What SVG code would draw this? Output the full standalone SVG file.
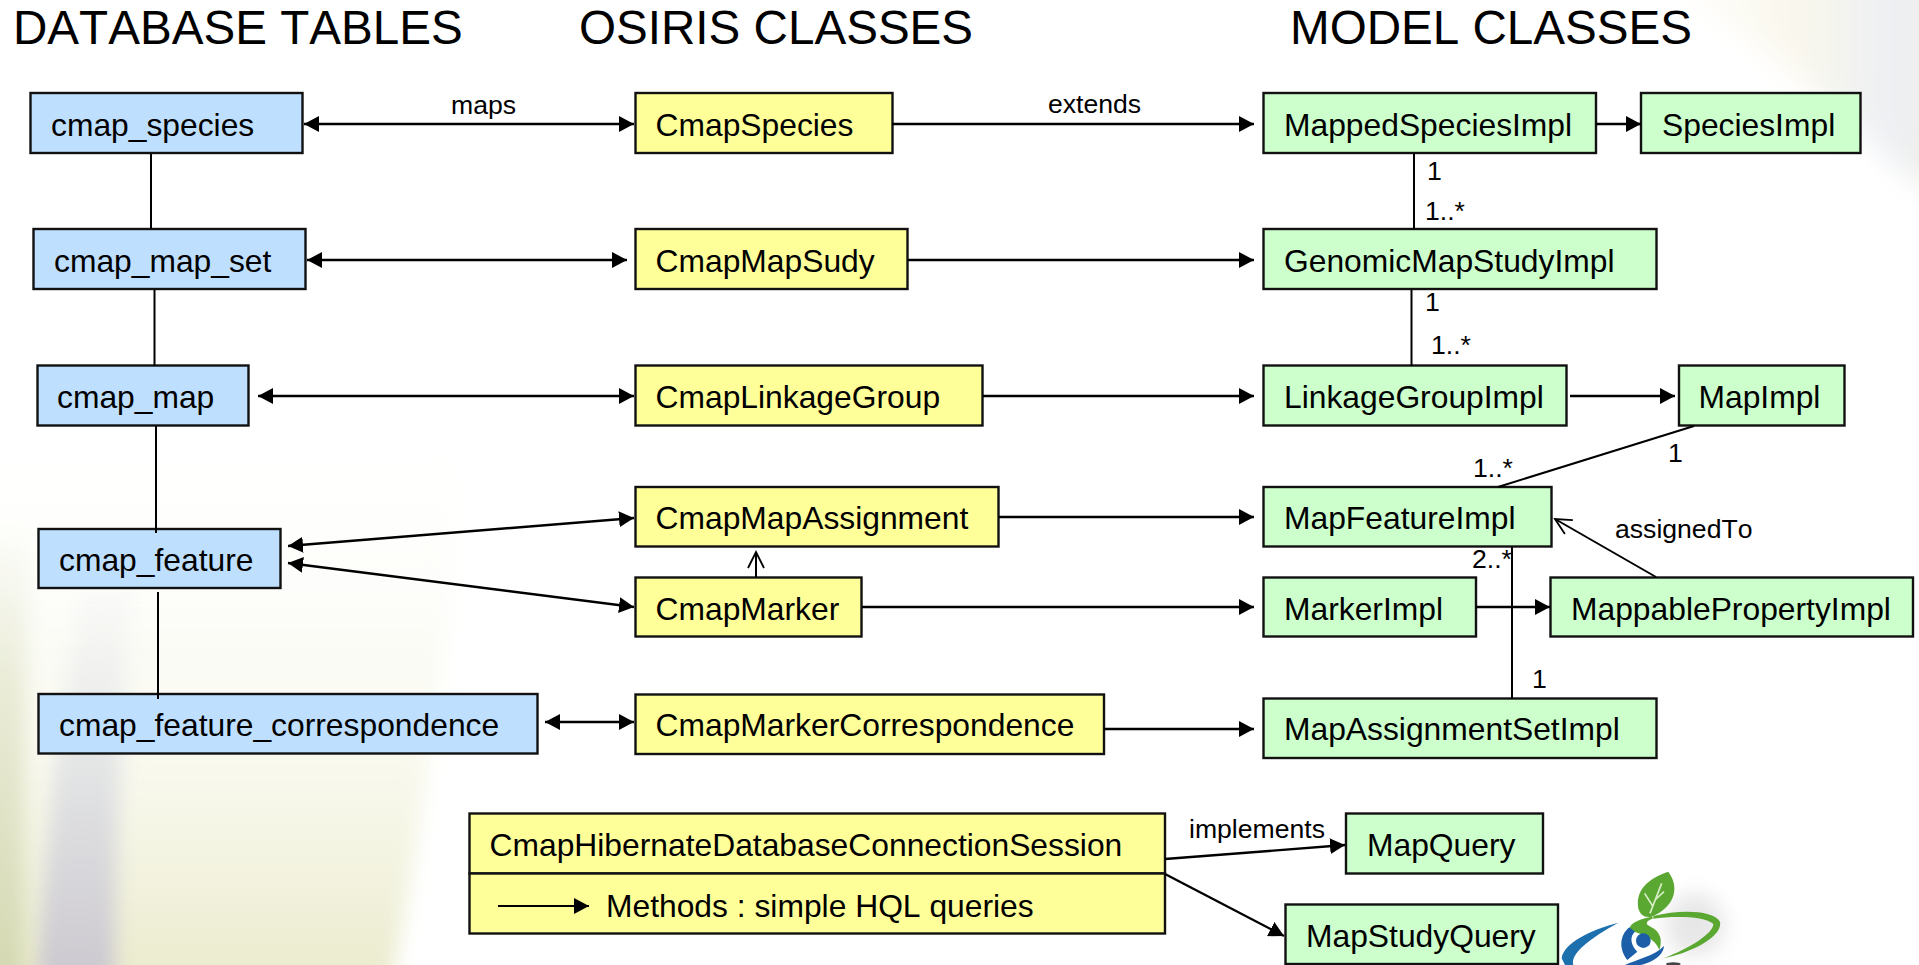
<svg xmlns="http://www.w3.org/2000/svg" width="1919" height="965" viewBox="0 0 1919 965">
<style>
text{font-family:"Liberation Sans",Arial,Helvetica,sans-serif;fill:#000;font-kerning:none}
.n{font-size:31.8px}
.t{font-size:47.6px}
.s{font-size:26.6px}
.b{stroke:#111;stroke-width:2.4}
.db{fill:#bfdfff}.os{fill:#ffff99}.mo{fill:#ccffcc}
.c line,.c path{fill:none;stroke:#000}
.a{stroke-width:2.4}.l{stroke-width:2}
</style>
<defs>
<marker id="f" markerUnits="userSpaceOnUse" markerWidth="17" markerHeight="16" refX="15" refY="8" orient="auto-start-reverse"><path d="M0 0L15 8L0 16Z" fill="#000"/></marker>
<marker id="o" markerUnits="userSpaceOnUse" markerWidth="20" markerHeight="20" refX="17" refY="10" orient="auto"><path d="M1 2L17 10L1 18" fill="none" stroke="#000" stroke-width="1.8"/></marker>
<linearGradient id="lg" x1="0" y1="0" x2="0" y2="1"><stop offset="0" stop-color="#fefefc" stop-opacity="0"/><stop offset=".3" stop-color="#fdfdfa"/><stop offset=".58" stop-color="#f9f9ef"/><stop offset=".8" stop-color="#f2f2de"/><stop offset="1" stop-color="#e9e9c8"/></linearGradient>
<linearGradient id="gy" x1="0" y1="0" x2="0" y2="1"><stop offset="0" stop-color="#eeeef0" stop-opacity="0"/><stop offset=".45" stop-color="#e4e6e6"/><stop offset="1" stop-color="#c9c5cd"/></linearGradient>
<linearGradient id="ed" x1="0" y1="0" x2="0" y2="1"><stop offset="0" stop-color="#eceedb" stop-opacity="0"/><stop offset=".35" stop-color="#e9ebd6"/><stop offset="1" stop-color="#d2d7ae"/></linearGradient>
<linearGradient id="tr" x1="0" y1="0" x2="1" y2="0"><stop offset="0" stop-color="#fbf8ec" stop-opacity="0"/><stop offset=".5" stop-color="#f9f7ec"/><stop offset=".8" stop-color="#eceff4"/><stop offset="1" stop-color="#f4f0e0"/></linearGradient>
<filter id="bl" x="-30%" y="-30%" width="160%" height="160%"><feGaussianBlur stdDeviation="10"/></filter>
<filter id="bx" x="-50%" y="-50%" width="200%" height="200%"><feGaussianBlur stdDeviation="14"/></filter>
<filter id="bs" x="-20%" y="-20%" width="140%" height="140%"><feGaussianBlur stdDeviation=".5"/></filter>
</defs>
<rect width="1919" height="965" fill="#fff"/>
<g id="background">
<path d="M-40 420L465 420Q455 650 388 1000L-40 1000Z" fill="url(#lg)" filter="url(#bl)"/>
<path d="M85 560L135 560Q115 760 115 1000L35 1000Q50 760 85 560Z" fill="url(#gy)" filter="url(#bl)"/>
<path d="M-30 520H30Q22 760 25 1000H-30Z" fill="url(#ed)" filter="url(#bl)"/>
<path d="M1640 -40H1960V210L1900 170Q1780 50 1640 -40Z" fill="url(#tr)" filter="url(#bx)"/>
</g>
<g id="logo">
<ellipse cx="1695" cy="925" rx="30" ry="32" fill="#d8d8d8" opacity=".6" filter="url(#bl)"/>
<g transform="translate(1540 850) scale(.3333)" filter="url(#bs)">
<path d="M385 65C325 85 285 120 295 175C300 195 315 205 335 200C395 175 425 120 385 65Z" fill="#5aa832"/>
<path d="M330 190L365 100M345 150L372 125M338 168L314 130" stroke="#d6efc6" stroke-width="5" fill="none"/>
<path d="M340 198C420 178 520 180 540 215C550 260 450 310 370 325C450 295 520 250 520 222C495 198 400 198 340 206Z" fill="#5aa832"/>
<path d="M335 200C285 210 262 225 272 242C300 250 348 265 358 300C368 270 362 245 332 230C312 222 320 212 340 205Z" fill="#5aa832"/>
<path d="M268 232C240 255 235 295 262 330L292 305C272 285 268 260 285 245Z" fill="#1b5ea8"/>
<circle cx="310" cy="272" r="22" fill="#1b5ea8"/>
<path d="M255 345C290 328 340 320 372 288C370 320 330 340 300 345Z" fill="#1b5ea8"/>
<path d="M235 218C150 240 70 280 65 325L75 345L100 345C90 310 150 265 235 218Z" fill="#1f6fae"/>
<ellipse cx="400" cy="342" rx="22" ry="5" fill="#444"/>
</g>
</g>
<g id="titles">
<text class="t" x="13" y="44">DATABASE TABLES</text>
<text class="t" x="579" y="44">OSIRIS CLASSES</text>
<text class="t" x="1290" y="44">MODEL CLASSES</text>
</g>
<g id="cmap_species"><rect class="b db" x="30.500" y="93" width="272" height="60"/><text class="n" x="51" y="136">cmap_species</text></g>
<g id="cmap_map_set"><rect class="b db" x="33.500" y="229" width="272" height="60"/><text class="n" x="54" y="272">cmap_map_set</text></g>
<g id="cmap_map"><rect class="b db" x="37.500" y="365.500" width="211" height="60"/><text class="n" x="57" y="408">cmap_map</text></g>
<g id="cmap_feature"><rect class="b db" x="38.500" y="529" width="242" height="59"/><text class="n" x="59" y="571">cmap_feature</text></g>
<g id="cmap_feature_correspondence"><rect class="b db" x="38.500" y="694" width="499" height="59.500"/><text class="n" x="59" y="736">cmap_feature_correspondence</text></g>
<g id="CmapSpecies"><rect class="b os" x="635.500" y="93" width="257" height="60"/><text class="n" x="655.500" y="136">CmapSpecies</text></g>
<g id="CmapMapSudy"><rect class="b os" x="635.500" y="229" width="272" height="60"/><text class="n" x="655.500" y="272">CmapMapSudy</text></g>
<g id="CmapLinkageGroup"><rect class="b os" x="635.500" y="365.500" width="347" height="60"/><text class="n" x="655.500" y="408">CmapLinkageGroup</text></g>
<g id="CmapMapAssignment"><rect class="b os" x="635.500" y="487" width="363" height="59.500"/><text class="n" x="655.500" y="529">CmapMapAssignment</text></g>
<g id="CmapMarker"><rect class="b os" x="635.500" y="577.500" width="226" height="59"/><text class="n" x="655.500" y="620">CmapMarker</text></g>
<g id="CmapMarkerCorrespondence"><rect class="b os" x="635.500" y="694.500" width="468.500" height="59.500"/><text class="n" x="655.500" y="736">CmapMarkerCorrespondence</text></g>
<g id="CmapHibernateDatabaseConnectionSession"><rect class="b os" x="469.500" y="813.500" width="695.500" height="60"/><rect class="b os" x="469.500" y="873.500" width="695.500" height="60"/><text class="n" x="489.500" y="856">CmapHibernateDatabaseConnectionSession</text>
<line x1="498" y1="906" x2="589" y2="906" stroke="#000" stroke-width="2" marker-end="url(#f)"/><text class="n" x="606" y="917">Methods : simple HQL queries</text></g>
<g id="MappedSpeciesImpl"><rect class="b mo" x="1263.500" y="93" width="332.500" height="60"/><text class="n" x="1284" y="136">MappedSpeciesImpl</text></g>
<g id="SpeciesImpl"><rect class="b mo" x="1641" y="93" width="219.500" height="60"/><text class="n" x="1662" y="136">SpeciesImpl</text></g>
<g id="GenomicMapStudyImpl"><rect class="b mo" x="1263.500" y="229" width="393" height="60"/><text class="n" x="1284" y="272">GenomicMapStudyImpl</text></g>
<g id="LinkageGroupImpl"><rect class="b mo" x="1263.500" y="365.500" width="303" height="60"/><text class="n" x="1284" y="408">LinkageGroupImpl</text></g>
<g id="MapImpl"><rect class="b mo" x="1679" y="365.500" width="165.500" height="60"/><text class="n" x="1698.500" y="408">MapImpl</text></g>
<g id="MapFeatureImpl"><rect class="b mo" x="1263.500" y="487" width="288" height="59.500"/><text class="n" x="1284" y="529">MapFeatureImpl</text></g>
<g id="MarkerImpl"><rect class="b mo" x="1263.500" y="577.500" width="212.500" height="59"/><text class="n" x="1284" y="620">MarkerImpl</text></g>
<g id="MappablePropertyImpl"><rect class="b mo" x="1550.500" y="577.500" width="362.500" height="59"/><text class="n" x="1571" y="620">MappablePropertyImpl</text></g>
<g id="MapAssignmentSetImpl"><rect class="b mo" x="1263.500" y="698.500" width="393" height="59.500"/><text class="n" x="1284" y="740">MapAssignmentSetImpl</text></g>
<g id="MapQuery"><rect class="b mo" x="1346" y="813.500" width="197" height="60"/><text class="n" x="1367" y="856">MapQuery</text></g>
<g id="MapStudyQuery"><rect class="b mo" x="1285.500" y="904.500" width="272.500" height="59.500"/><text class="n" x="1306" y="947">MapStudyQuery</text></g>
<g id="connectors" class="c">
<line class="l" x1="151" y1="154" x2="151" y2="229"/>
<line class="l" x1="154.500" y1="290" x2="154.500" y2="366"/>
<line class="l" x1="156" y1="426" x2="156" y2="533"/>
<line class="l" x1="158" y1="592" x2="158" y2="699"/>
<line class="a" x1="304" y1="124" x2="634" y2="124" marker-start="url(#f)" marker-end="url(#f)"/>
<line class="a" x1="307" y1="260" x2="627" y2="260" marker-start="url(#f)" marker-end="url(#f)"/>
<line class="a" x1="258" y1="396" x2="634" y2="396" marker-start="url(#f)" marker-end="url(#f)"/>
<line class="a" x1="288" y1="546" x2="634" y2="518" marker-start="url(#f)" marker-end="url(#f)"/>
<line class="a" x1="288" y1="563" x2="634" y2="607" marker-start="url(#f)" marker-end="url(#f)"/>
<line class="a" x1="545" y1="722" x2="634" y2="722" marker-start="url(#f)" marker-end="url(#f)"/>
<line class="l" x1="756" y1="577" x2="756" y2="552" marker-end="url(#o)"/>
<line class="a" x1="892" y1="124" x2="1254" y2="124" marker-end="url(#f)"/>
<line class="a" x1="908" y1="260" x2="1254" y2="260" marker-end="url(#f)"/>
<line class="a" x1="983" y1="396" x2="1254" y2="396" marker-end="url(#f)"/>
<line class="a" x1="999" y1="517" x2="1254" y2="517" marker-end="url(#f)"/>
<line class="a" x1="862" y1="607" x2="1254" y2="607" marker-end="url(#f)"/>
<line class="a" x1="1104" y1="729" x2="1254" y2="729" marker-end="url(#f)"/>
<line class="a" x1="1596" y1="124" x2="1641" y2="124" marker-end="url(#f)"/>
<line class="a" x1="1570" y1="396" x2="1675" y2="396" marker-end="url(#f)"/>
<line class="a" x1="1476" y1="607" x2="1550" y2="607" marker-end="url(#f)"/>
<line class="l" x1="1414" y1="154" x2="1414" y2="229"/>
<line class="l" x1="1411.500" y1="290" x2="1411.500" y2="366"/>
<line class="l" x1="1694" y1="426" x2="1498" y2="487"/>
<line class="l" x1="1512" y1="547" x2="1512" y2="699"/>
<line class="l" x1="1656" y1="577" x2="1555" y2="519" marker-end="url(#o)"/>
<line class="a" x1="1165" y1="859" x2="1345" y2="845" marker-end="url(#f)"/>
<line class="a" x1="1165" y1="874" x2="1284" y2="936" marker-end="url(#f)"/>
</g>
<g id="labels">
<text class="s" x="451" y="114">maps</text>
<text class="s" x="1048" y="113">extends</text>
<text class="s" x="1427" y="180">1</text>
<text class="s" x="1425" y="220">1..*</text>
<text class="s" x="1425" y="311">1</text>
<text class="s" x="1431" y="354">1..*</text>
<text class="s" x="1668" y="462">1</text>
<text class="s" x="1473" y="477">1..*</text>
<text class="s" x="1472" y="568">2..*</text>
<text class="s" x="1532" y="688">1</text>
<text class="s" x="1615" y="538">assignedTo</text>
<text class="s" x="1189" y="838">implements</text>
</g>
</svg>
